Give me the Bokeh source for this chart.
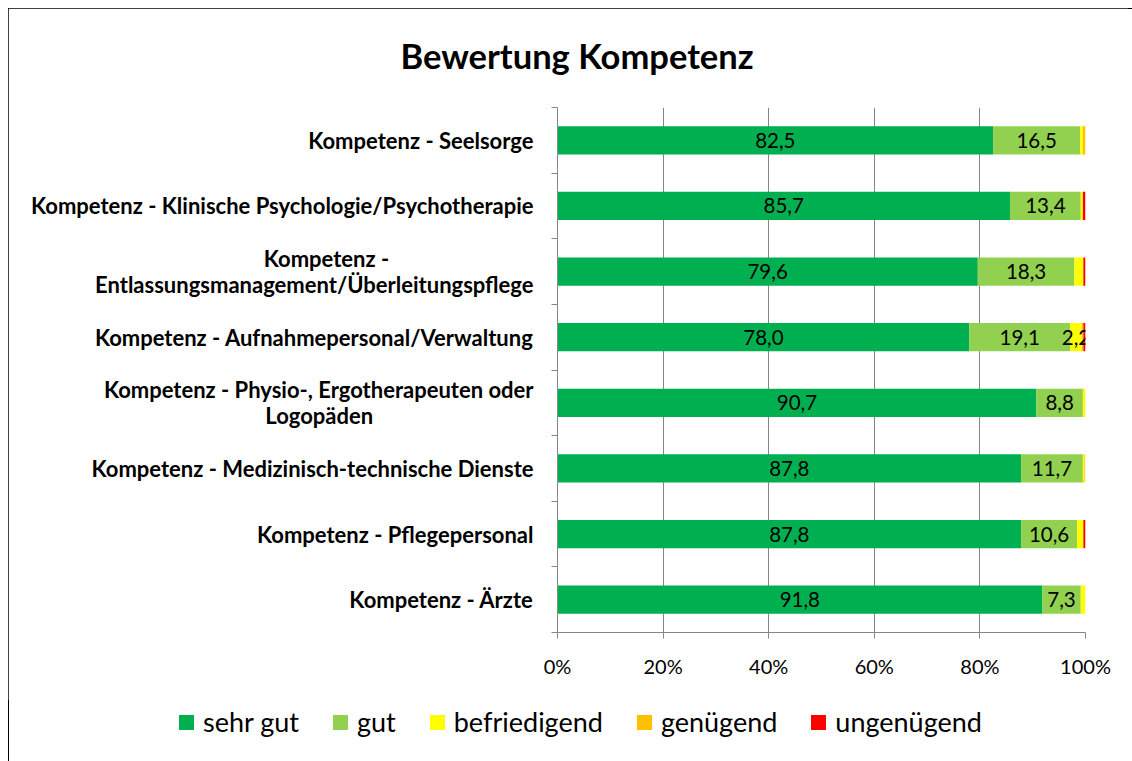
from bokeh.plotting import figure
from bokeh.layouts import column
from bokeh.models import (ColumnDataSource, LabelSet, Title, Div,
                          FixedTicker, PrintfTickFormatter, Range1d)
from bokeh.core.properties import value
from bokeh.embed import file_html
from bokeh.resources import INLINE

FONT = "Lato"

# categories bottom -> top
categories = [
    "Kompetenz - Ärzte",
    "Kompetenz - Pflegepersonal",
    "Kompetenz - Medizinisch-technische Dienste",
    "Kompetenz - Physio-, Ergotherapeuten oder\nLogopäden",
    "Kompetenz - Aufnahmepersonal/Verwaltung",
    "Kompetenz -\nEntlassungsmanagement/Überleitungspflege",
    "Kompetenz - Klinische Psychologie/Psychotherapie",
    "Kompetenz - Seelsorge",
]
series_names = ["sehr gut", "gut", "befriedigend", "genügend", "ungenügend"]
sehr_gut = [91.8, 87.8, 87.8, 90.7, 78.0, 79.6, 85.7, 82.5]
gut = [7.3, 10.6, 11.7, 8.8, 19.1, 18.3, 13.4, 16.5]
befriedigend = [0.9, 1.2, 0.3, 0.5, 2.2, 1.7, 0.4, 0.5]
genuegend = [0.0, 0.0, 0.2, 0.0, 0.3, 0.0, 0.0, 0.5]
ungenuegend = [0.0, 0.4, 0.0, 0.0, 0.4, 0.4, 0.5, 0.0]
colors = ["#00B050", "#92D050", "#FFFF00", "#FFC000", "#FF0000"]
x_ticks = [0, 20, 40, 60, 80, 100]
title_text = "Bewertung Kompetenz"

series = [sehr_gut, gut, befriedigend, genuegend, ungenuegend]

CHAR_W = 10.5      # approx. average char width of the bold label font
NBSP_W = 5.55      # approx. width of a no-break space


def centered_label(cat):
    """Pad the shorter line so that it appears centred on the longer one."""
    lines = cat.split("\n")
    if len(lines) == 1:
        return cat
    longest = max(len(s) for s in lines)
    out = []
    for s in lines:
        pad = int(round((longest - len(s)) * CHAR_W / 2 / NBSP_W))
        out.append(s + "\u00a0" * pad)
    return "\n".join(out)


p = figure(width=1120, height=692, output_backend="svg", toolbar_location=None,
           x_range=Range1d(0, 100), y_range=Range1d(0, len(categories)),
           min_border_left=549, min_border_right=43, min_border_top=99,
           min_border_bottom=68)
p.outline_line_color = None

ys = [i + 0.5 for i in range(len(categories))]
left = [0.0] * len(categories)
lab_x, lab_y, lab_t = [], [], []
for name, vals, col in zip(series_names, series, colors):
    right = [l + v for l, v in zip(left, vals)]
    src = ColumnDataSource(dict(y=ys, left=left, right=right))
    p.hbar(y="y", left="left", right="right", height=0.43, source=src,
           fill_color=col, line_color=None)
    for l, rr, v, yy in zip(left, right, vals, ys):
        if v >= 2:
            lab_x.append((l + rr) / 2)
            lab_y.append(yy)
            lab_t.append(f"{v:.1f}".replace(".", ","))
    left = right

vals_src = ColumnDataSource(dict(x=lab_x, y=lab_y, t=lab_t))
p.add_layout(LabelSet(x="x", y="y", text="t", source=vals_src, text_align="center",
                      text_baseline="middle", text_font=value(FONT),
                      text_font_size=value("20.5px"), text_color="#000000"))

# title (spacer nearest to the plot, then the real title)
p.add_layout(Title(text=" ", text_font_size="13px"), "above")
p.add_layout(Title(text=title_text, align="left", offset=-157, text_font=FONT,
                   text_font_style="bold", text_font_size="34.5px",
                   text_color="#000000"), "above")

ax = p.xaxis[0]
ax.ticker = FixedTicker(ticks=x_ticks)
ax.formatter = PrintfTickFormatter(format="%d%%")
ax.major_tick_out = 6
ax.major_tick_in = 0
ax.minor_tick_line_color = None
ax.axis_line_color = "#868686"
ax.major_tick_line_color = "#868686"
ax.major_label_text_font = FONT
ax.major_label_text_font_size = "20px"
ax.major_label_text_color = "#000000"
ax.major_label_standoff = 15

ay = p.yaxis[0]
ay.ticker = FixedTicker(ticks=ys, minor_ticks=list(range(len(categories) + 1)))
ay.major_label_overrides = {y: centered_label(c) for y, c in zip(ys, categories)}
ay.major_label_text_font = FONT
ay.major_label_text_font_style = "bold"
ay.major_label_text_font_size = "22px"
ay.major_label_text_line_height = 0.95
ay.major_label_text_color = "#000000"
ay.major_label_standoff = 18
ay.major_tick_out = 0
ay.major_tick_in = 0
ay.major_tick_line_color = None
ay.minor_tick_out = 6
ay.minor_tick_in = 0
ay.minor_tick_line_color = "#868686"
ay.axis_line_color = "#868686"

p.xgrid.ticker = FixedTicker(ticks=x_ticks)
p.xgrid.grid_line_color = "#868686"
p.ygrid.visible = False

# legend strip below the chart
item_html = "".join(
    f'<span style="display:inline-block;width:15px;height:15px;background:{c};'
    f'margin-right:9px;"></span>'
    f'<span style="margin-right:34px;">{n}</span>'
    for n, c in zip(series_names, colors))
legend_div = Div(
    text=(f'<div style="display:flex;align-items:center;height:34px;margin-left:166px;'
          f'font-family:{FONT};font-size:27px;color:#000000;white-space:nowrap;">'
          f'{item_html}</div>'),
    width=1120, height=53)

layout = column(p, legend_div, spacing=0)
layout.styles = {"outline": "1px solid #000000", "outline-offset": "-1px",
                 "margin-left": "8px", "margin-top": "8px"}

open("out.html", "w").write(file_html(layout, INLINE))
